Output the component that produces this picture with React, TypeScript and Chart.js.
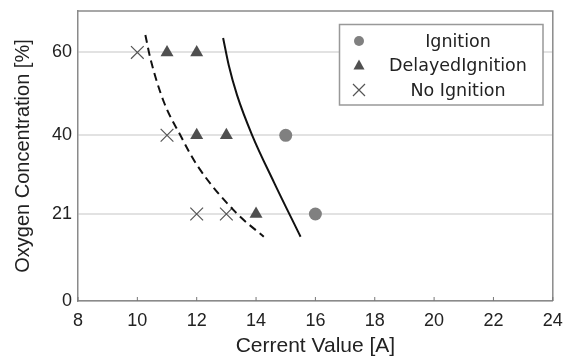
import React, { useEffect, useRef } from "react";
import { Chart, registerables } from "chart.js";

Chart.register(...registerables);

const yTickValues = [0, 21, 40, 60];
const ignitionPts = [
  { x: 15, y: 40 },
  { x: 16, y: 21 },
];
const delayedPts = [
  { x: 11, y: 60 },
  { x: 12, y: 60 },
  { x: 12, y: 40 },
  { x: 13, y: 40 },
  { x: 14, y: 21 },
];
const noIgnitionPts = [
  { x: 10, y: 60 },
  { x: 11, y: 40 },
  { x: 12, y: 21 },
  { x: 13, y: 21 },
];
const dashedCurve = [
  { x: 10.27, y: 64.2 },
  { x: 10.44, y: 58.5 },
  { x: 10.89, y: 48.1 },
  { x: 11.45, y: 40 },
  { x: 12.01, y: 32.8 },
  { x: 13.3, y: 21.5 },
  { x: 14.26, y: 15.5 },
];
const solidCurve = [
  { x: 12.89, y: 63.5 },
  { x: 13.08, y: 56.9 },
  { x: 13.36, y: 49.7 },
  { x: 13.87, y: 40 },
  { x: 14.6, y: 28.7 },
  { x: 15.5, y: 15.5 },
];
const legendLabels = ["Ignition", "DelayedIgnition", "No Ignition"];

const FONT = "'Liberation Sans', Arial, sans-serif";
const LEGEND_FONT = "'DejaVu Sans', sans-serif";

const framePlugin = {
  id: "frameAndLegend",
  afterDraw(chart: any) {
    const ctx = chart.ctx;
    const { left, right, top, bottom } = chart.chartArea;
    const xs = chart.scales.x;
    ctx.save();
    ctx.strokeStyle = "#8a8a8a";
    ctx.lineWidth = 1.5;
    ctx.beginPath();
    ctx.moveTo(left, top);
    ctx.lineTo(right, top);
    ctx.lineTo(right, bottom);
    ctx.stroke();
    ctx.lineWidth = 1;
    ctx.strokeStyle = "#777";
    xs.ticks.forEach((t: any) => {
      const px = xs.getPixelForValue(t.value);
      ctx.beginPath();
      ctx.moveTo(px, bottom);
      ctx.lineTo(px, bottom - 4);
      ctx.stroke();
    });
    const bx = 339.5, by = 24.5, bw = 203.5, bh = 80.5;
    ctx.fillStyle = "#fff";
    ctx.fillRect(bx, by, bw, bh);
    ctx.strokeStyle = "#999";
    ctx.lineWidth = 1.5;
    ctx.strokeRect(bx, by, bw, bh);
    const rows = [41, 65, 90];
    const mx = 359;
    ctx.fillStyle = "#808080";
    ctx.beginPath();
    ctx.arc(mx, rows[0], 5, 0, Math.PI * 2);
    ctx.fill();
    ctx.fillStyle = "#505050";
    ctx.beginPath();
    ctx.moveTo(mx, rows[1] - 5.5);
    ctx.lineTo(mx + 5.5, rows[1] + 4.5);
    ctx.lineTo(mx - 5.5, rows[1] + 4.5);
    ctx.closePath();
    ctx.fill();
    ctx.strokeStyle = "#555";
    ctx.lineWidth = 1.2;
    ctx.beginPath();
    ctx.moveTo(mx - 6, rows[2] - 6);
    ctx.lineTo(mx + 6, rows[2] + 6);
    ctx.moveTo(mx + 6, rows[2] - 6);
    ctx.lineTo(mx - 6, rows[2] + 6);
    ctx.stroke();
    ctx.fillStyle = "#222";
    ctx.font = `17.5px ${LEGEND_FONT}`;
    ctx.textAlign = "center";
    ctx.textBaseline = "middle";
    legendLabels.forEach((l, i) => ctx.fillText(l, 458, rows[i] + 1));
    ctx.restore();
  },
};

export default function App() {
  const ref = useRef<HTMLCanvasElement>(null);
  useEffect(() => {
    document.body.style.margin = "0";
    const chart = new Chart(ref.current!, {
      type: "scatter",
      data: {
        datasets: [
          {
            label: "dashed",
            data: dashedCurve,
            showLine: true,
            borderColor: "#111",
            borderWidth: 2,
            borderDash: [8, 5],
            pointRadius: 0,
            cubicInterpolationMode: "monotone",
          },
          {
            label: "solid",
            data: solidCurve,
            showLine: true,
            borderColor: "#111",
            borderWidth: 2,
            pointRadius: 0,
            cubicInterpolationMode: "monotone",
          },
          {
            label: legendLabels[0],
            data: ignitionPts,
            pointStyle: "circle",
            pointRadius: 6.5,
            backgroundColor: "#808080",
            borderColor: "#808080",
            borderWidth: 0,
          },
          {
            label: legendLabels[1],
            data: delayedPts,
            pointStyle: "triangle",
            pointRadius: 7.5,
            backgroundColor: "#4f4f4f",
            borderColor: "#4f4f4f",
            borderWidth: 0,
          },
          {
            label: legendLabels[2],
            data: noIgnitionPts,
            pointStyle: "crossRot",
            pointRadius: 9,
            borderColor: "#555",
            backgroundColor: "#555",
            borderWidth: 1.2,
          },
        ],
      },
      options: {
        animation: false,
        responsive: false,
        maintainAspectRatio: false,
        layout: { padding: { top: 11, right: 9, left: 0, bottom: 0 } },
        plugins: { legend: { display: false }, tooltip: { enabled: false } },
        scales: {
          x: {
            type: "linear",
            min: 8,
            max: 24,
            ticks: {
              stepSize: 2,
              color: "#222",
              font: { family: FONT, size: 18 },
              padding: 9,
            },
            grid: { display: false, drawTicks: false },
            border: { color: "#8a8a8a", width: 1.5 },
            title: {
              display: true,
              text: "Cerrent Value [A]",
              color: "#222",
              font: { family: FONT, size: 21 },
              padding: { top: 0, bottom: -3 },
            },
            afterFit: (s: any) => {
              s.height = 55;
              s.paddingLeft = 0;
              s.paddingRight = 0;
            },
          },
          y: {
            type: "linear",
            min: 0,
            max: 70,
            afterBuildTicks: (s: any) => {
              s.ticks = yTickValues.map((v) => ({ value: v }));
            },
            ticks: {
              color: "#222",
              font: { family: FONT, size: 18 },
              padding: 6,
            },
            grid: { color: "#e2e2e2", lineWidth: 2, drawTicks: false },
            border: { color: "#8a8a8a", width: 1.5 },
            title: {
              display: true,
              text: "Oxygen Concentration [%]",
              color: "#222",
              font: { family: FONT, size: 20 },
              padding: { top: 11, bottom: 0 },
            },
            afterFit: (s: any) => {
              s.width = 78;
              s.paddingTop = 0;
              s.paddingBottom = 0;
            },
          },
        },
      },
      plugins: [framePlugin],
    });
    return () => chart.destroy();
  }, []);
  return (
    <div style={{ position: "absolute", left: 0, top: 0, width: 563, height: 356 }}>
      <canvas ref={ref} width={563} height={356} style={{ width: 563, height: 356 }} />
    </div>
  );
}
